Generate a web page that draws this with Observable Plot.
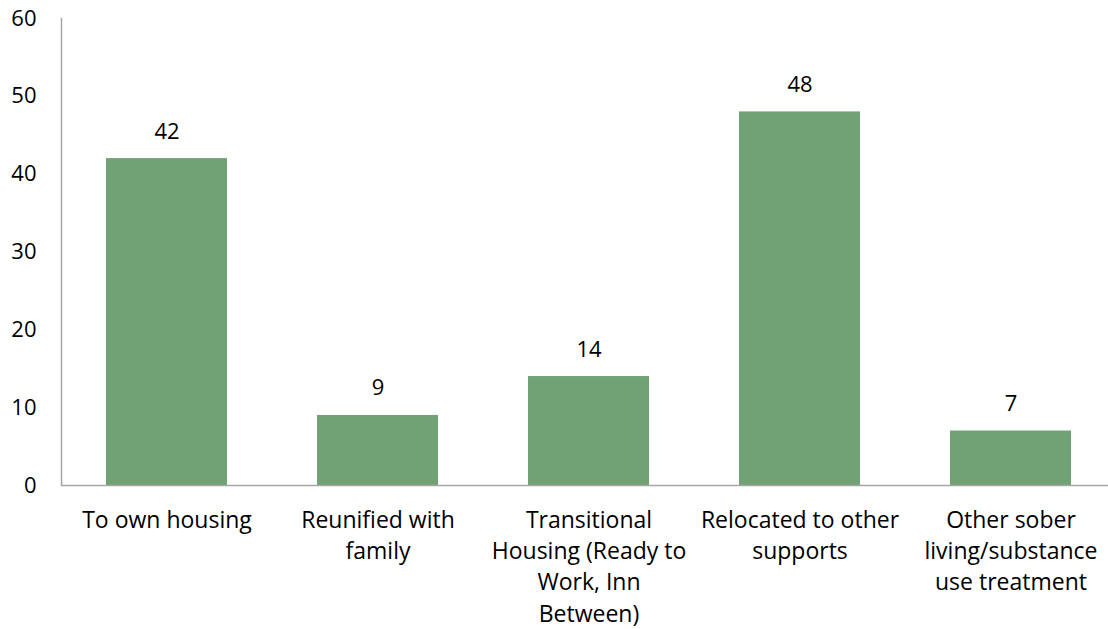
<!DOCTYPE html>
<html>
<head>
<meta charset="utf-8">
<script src="https://cdn.jsdelivr.net/npm/d3@7"></script>
<script src="https://cdn.jsdelivr.net/npm/@observablehq/plot@0.6"></script>
<style>
  html, body { margin: 0; padding: 0; background: #fff; }
  #chart svg { display: block; }
</style>
</head>
<body>
<div id="chart"></div>
<script>
const categories = [
  "To own housing",
  "Reunified with\nfamily",
  "Transitional\nHousing (Ready to\nWork, Inn\nBetween)",
  "Relocated to other\nsupports",
  "Other sober\nliving/substance\nuse treatment"
];
const values = [42, 9, 14, 48, 7];
const yTicks = [0, 10, 20, 30, 40, 50, 60];

const data = categories.map((c, i) => ({category: c, value: values[i]}));

const font = "'Open Sans', Lato, sans-serif";

const chart = Plot.plot({
  width: 1108,
  height: 629,
  marginTop: 18,
  marginBottom: 144,
  marginLeft: 61,
  marginRight: 0,
  style: {fontFamily: font, fontSize: "23px", color: "#000", background: "#fff"},
  x: {domain: categories, range: [61, 1116], paddingInner: 0.427, paddingOuter: 0.2135, label: null},
  y: {domain: [0, 60], ticks: yTicks, label: null},
  marks: [
    Plot.barY(data, {x: "category", y: "value", fill: "#71a276"}),
    Plot.frame({anchor: "left", stroke: "#a6a6a6", strokeWidth: 1.5}),
    Plot.ruleY([0], {stroke: "#a6a6a6", strokeWidth: 1.5}),
    Plot.axisY({ticks: yTicks, tickSize: 0, tickPadding: 25, fontSize: 22, label: null}),
    Plot.axisX({tickSize: 0, tickPadding: 20, fontSize: 23, lineHeight: 1.36, label: null}),
    Plot.text(data, {x: "category", y: "value", text: d => String(d.value), dy: -27, fontSize: 22, fill: "#000"})
  ]
});
document.getElementById("chart").appendChild(chart);
</script>
</body>
</html>
